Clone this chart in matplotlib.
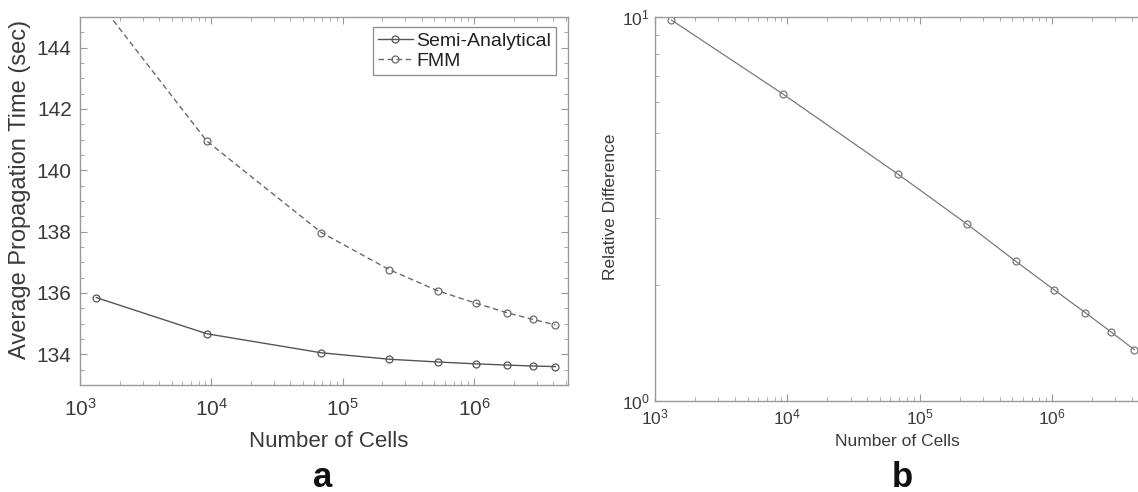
import numpy as np
import matplotlib
matplotlib.use('Agg')
import matplotlib.pyplot as plt
from matplotlib.ticker import LogLocator, MultipleLocator, NullFormatter

plt.rcParams['font.family'] = ['Liberation Sans', 'DejaVu Sans']
plt.rcParams['mathtext.default'] = 'regular'

# data
cells = [1331, 9261, 68921, 226981, 531441, 1030301, 1771561, 2803221, 4173281]
semi_analytical = [135.85, 134.67, 134.05, 133.84, 133.75, 133.69, 133.65, 133.62, 133.60]
fmm = [145.6, 140.95, 137.97, 136.76, 136.07, 135.67, 135.36, 135.14, 134.96]
rel_diff = [9.82, 6.30, 3.89, 2.89, 2.31, 1.95, 1.70, 1.51, 1.36]

text_col = '#3a3a3a'
spine_col = '#9a9a9a'

W, H = 1138, 492
fig = plt.figure(figsize=(W / 100, H / 100), dpi=100)


def px_axes(x0, y0, x1, y1):
    return fig.add_axes([x0 / W, 1 - y1 / H, (x1 - x0) / W, (y1 - y0) / H])


def style(ax, fs):
    for s in ax.spines.values():
        s.set_color(spine_col)
        s.set_linewidth(1.0)
    ax.tick_params(which='both', direction='in', top=True, right=True,
                   colors=spine_col, labelcolor=text_col, labelsize=fs)
    ax.tick_params(which='major', length=5)
    ax.tick_params(which='minor', length=3)


# ---- panel a ----
ax1 = px_axes(80, 17, 568, 385)
ax1.semilogx(cells, semi_analytical, '-o', color='#555555', lw=1.0, ms=5,
             mfc='none', mec='#555555', mew=0.9, label='Semi-Analytical')
ax1.semilogx(cells, fmm, '--o', color='#6a6a6a', lw=1.0, ms=5,
             mfc='none', mec='#6a6a6a', mew=0.9, label='FMM', dashes=(4, 2.5))
ax1.set_xlim(1e3, 5.2e6)
ax1.set_ylim(133, 145)
ax1.yaxis.set_major_locator(MultipleLocator(2))
ax1.yaxis.set_minor_locator(MultipleLocator(0.5))
ax1.xaxis.set_major_locator(LogLocator(base=10, numticks=10))
ax1.xaxis.set_minor_locator(LogLocator(base=10, subs=np.arange(2, 10), numticks=20))
ax1.xaxis.set_minor_formatter(NullFormatter())
style(ax1, 15)
ax1.tick_params(axis='x', which='both', pad=9)
ax1.tick_params(axis='y', which='both', pad=6)
ax1.set_xlabel('Number of Cells', fontsize=16, color=text_col)
ax1.set_ylabel('Average Propagation Time (sec)', fontsize=17, color=text_col)
ax1.xaxis.set_label_coords(0.51, -0.125)
ax1.yaxis.set_label_coords(-0.1, 0.532)
leg = ax1.legend(loc='upper right', bbox_to_anchor=(0.976, 0.972), fontsize=14,
                 frameon=True, fancybox=False, framealpha=1, handlelength=1.8,
                 handletextpad=0.2, borderpad=0.25, labelspacing=0.15,
                 borderaxespad=0)
leg.get_frame().set_edgecolor('#8a8a8a')
leg.get_frame().set_linewidth(0.9)
for t in leg.get_texts():
    t.set_color('#222222')

# ---- panel b ----
ax2 = px_axes(655, 17, 1147, 401)
ax2.loglog(cells, rel_diff, '-o', color='#7a7a7a', lw=0.9, ms=5,
           mfc='none', mec='#7a7a7a', mew=0.9)
ax2.set_xlim(1e3, 5.2e6)
ax2.set_ylim(1, 10)
ax2.xaxis.set_major_locator(LogLocator(base=10, numticks=10))
ax2.xaxis.set_minor_locator(LogLocator(base=10, subs=np.arange(2, 10), numticks=20))
ax2.xaxis.set_minor_formatter(NullFormatter())
ax2.yaxis.set_major_locator(LogLocator(base=10, numticks=10))
ax2.yaxis.set_minor_locator(LogLocator(base=10, subs=np.arange(2, 10), numticks=20))
ax2.yaxis.set_minor_formatter(NullFormatter())
style(ax2, 12.5)
ax2.tick_params(axis='x', which='both', pad=5)
ax2.tick_params(axis='y', which='both', pad=4)
ax2.set_xlabel('Number of Cells', fontsize=12.5, color=text_col)
ax2.set_ylabel('Relative Difference', fontsize=12.5, color=text_col)
ax2.xaxis.set_label_coords(0.492, -0.085)
ax2.yaxis.set_label_coords(-0.075, 0.505)

# panel letters
fig.text(323 / W, 1 - 487 / H, 'a', fontsize=25, fontweight='bold',
         ha='center', va='baseline', color='#111111')
fig.text(902 / W, 1 - 487 / H, 'b', fontsize=25, fontweight='bold',
         ha='center', va='baseline', color='#111111')

fig.savefig('out.png', dpi=100)
